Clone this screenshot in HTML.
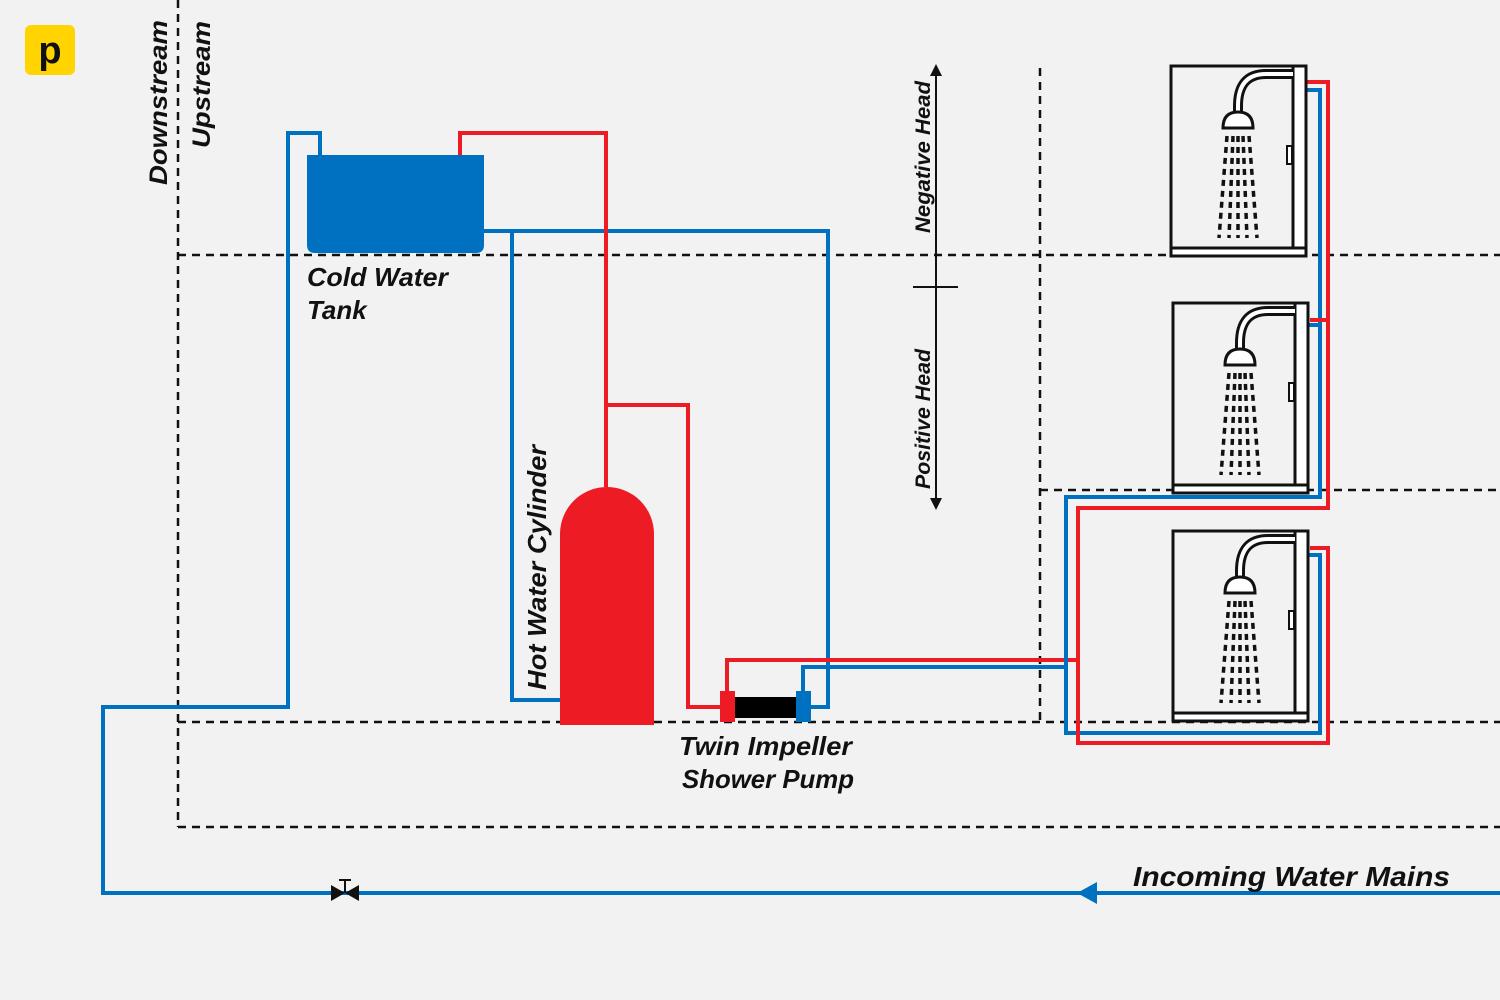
<!DOCTYPE html>
<html><head><meta charset="utf-8"><style>
html,body{margin:0;padding:0;background:#f2f2f2;}
svg{display:block}
text{font-family:"Liberation Sans",sans-serif;font-weight:bold;font-style:italic;fill:#111;}
</style></head><body>
<svg width="1500" height="1000" viewBox="0 0 1500 1000" xmlns="http://www.w3.org/2000/svg">
<defs>
<g id="shower">
  <rect x="0" y="0" width="135" height="190" fill="none" stroke="#111" stroke-width="3"/>
  <rect x="122" y="0" width="13" height="182" fill="#fff" stroke="#111" stroke-width="3"/>
  <rect x="0" y="182" width="135" height="8" fill="#fff" stroke="#111" stroke-width="3"/>
  <rect x="116" y="80" width="5" height="18" fill="#fff" stroke="#111" stroke-width="2"/>
  <path d="M122 8 H95 Q67 8 67 40 V50" fill="none" stroke="#111" stroke-width="10"/>
  <path d="M122 8 H95 Q67 8 67 40 V50" fill="none" stroke="#fff" stroke-width="4"/>
  <path d="M52 62 Q52 46 67 46 Q82 46 82 62 Z" fill="#fff" stroke="#111" stroke-width="3"/>
  <g stroke="#111" stroke-width="3.5" stroke-dasharray="6 5" fill="none">
    <line x1="56" y1="70" x2="48" y2="172"/>
    <line x1="62" y1="70" x2="58" y2="172"/>
    <line x1="67" y1="70" x2="67" y2="172"/>
    <line x1="72" y1="70" x2="76" y2="172"/>
    <line x1="78" y1="70" x2="86" y2="172"/>
  </g>
</g>
</defs>
<!-- logo -->
<rect x="25" y="25" width="50" height="50" rx="6" fill="#ffd400"/>
<text x="50" y="63" text-anchor="middle" font-size="38" style="font-style:normal;font-weight:bold">p</text>

<!-- dashed lines -->
<g stroke="#111" stroke-width="2.5" stroke-dasharray="8 6" fill="none">
  <line x1="178" y1="0" x2="178" y2="827"/>
  <line x1="178" y1="255" x2="1500" y2="255"/>
  <line x1="1040" y1="490" x2="1500" y2="490"/>
  <line x1="178" y1="722" x2="1500" y2="722"/>
  <line x1="178" y1="827" x2="1500" y2="827"/>
  <line x1="1040" y1="68" x2="1040" y2="722"/>
</g>
<text transform="translate(167,185) rotate(-90)" font-size="25" textLength="165" lengthAdjust="spacingAndGlyphs">Downstream</text>
<text transform="translate(210,148) rotate(-90)" font-size="25" textLength="127" lengthAdjust="spacingAndGlyphs">Upstream</text>

<!-- head arrow -->
<line x1="936" y1="72" x2="936" y2="504" stroke="#111" stroke-width="2"/>
<path d="M936 64 L930 76 L942 76 Z M936 510 L930 498 L942 498 Z" fill="#111"/>
<line x1="913" y1="287" x2="958" y2="287" stroke="#111" stroke-width="2"/>
<text transform="translate(930,233) rotate(-90)" font-size="21" textLength="152" lengthAdjust="spacingAndGlyphs">Negative Head</text>
<text transform="translate(930,489) rotate(-90)" font-size="21" textLength="140" lengthAdjust="spacingAndGlyphs">Positive Head</text>

<!-- pipes -->
<g fill="none" stroke-width="4">
  <path d="M1500 893 H103 V707 H288 V133 H320 V155" stroke="#0070c0"/>
  <path d="M484 231 H828 V707 H808" stroke="#0070c0"/>
  <path d="M512 231 V700 H560" stroke="#0070c0"/>
  <path d="M460 155 V133 H606 V487" stroke="#ed1c24"/>
  <path d="M606 405 H688 V707 H722" stroke="#ed1c24"/>
  <path d="M727 691 V660 H1078" stroke="#ed1c24"/>
  <path d="M803 691 V667 H1066" stroke="#0070c0"/>
  <path d="M1305 90 H1320 V497 H1066 V733 H1320 V555 H1308" stroke="#0070c0"/>
  <path d="M1308 325 H1320" stroke="#0070c0"/>
  <path d="M1305 82 H1328 V508 H1078 V743 H1328 V548 H1310" stroke="#ed1c24"/>
  <path d="M1310 320 H1328" stroke="#ed1c24"/>
</g>
<!-- arrow on mains -->
<path d="M1077 893 L1097 882 L1097 904 Z" fill="#0070c0"/>
<!-- valve -->
<path d="M331 885 L359 901 L359 885 L331 901 Z" fill="#111"/>
<line x1="345" y1="880" x2="345" y2="893" stroke="#111" stroke-width="2"/>
<line x1="339" y1="880" x2="351" y2="880" stroke="#111" stroke-width="2"/>

<!-- tank -->
<path d="M307 155 H484 V245 Q484 253 476 253 H315 Q307 253 307 245 Z" fill="#0070c0"/>
<text x="307" y="286" font-size="26" textLength="141" lengthAdjust="spacingAndGlyphs">Cold Water</text>
<text x="307" y="319" font-size="26">Tank</text>

<!-- cylinder -->
<path d="M560 725 V534 A47 47 0 0 1 654 534 V725 Z" fill="#ed1c24"/>
<text transform="translate(546,690) rotate(-90)" font-size="26" textLength="245" lengthAdjust="spacingAndGlyphs">Hot Water Cylinder</text>

<!-- pump -->
<rect x="735" y="697" width="62" height="21" fill="#000"/>
<rect x="720" y="691" width="15" height="31" fill="#ed1c24"/>
<rect x="796" y="691" width="15" height="31" fill="#0070c0"/>
<text x="679" y="755" font-size="26" textLength="173" lengthAdjust="spacingAndGlyphs">Twin Impeller</text>
<text x="682" y="788" font-size="26" textLength="172" lengthAdjust="spacingAndGlyphs">Shower Pump</text>

<text x="1133" y="886" font-size="28" textLength="317" lengthAdjust="spacingAndGlyphs">Incoming Water Mains</text>

<!-- showers -->
<use href="#shower" x="1171" y="66"/>
<use href="#shower" x="1173" y="303"/>
<use href="#shower" x="1173" y="531"/>
</svg>
</body></html>
